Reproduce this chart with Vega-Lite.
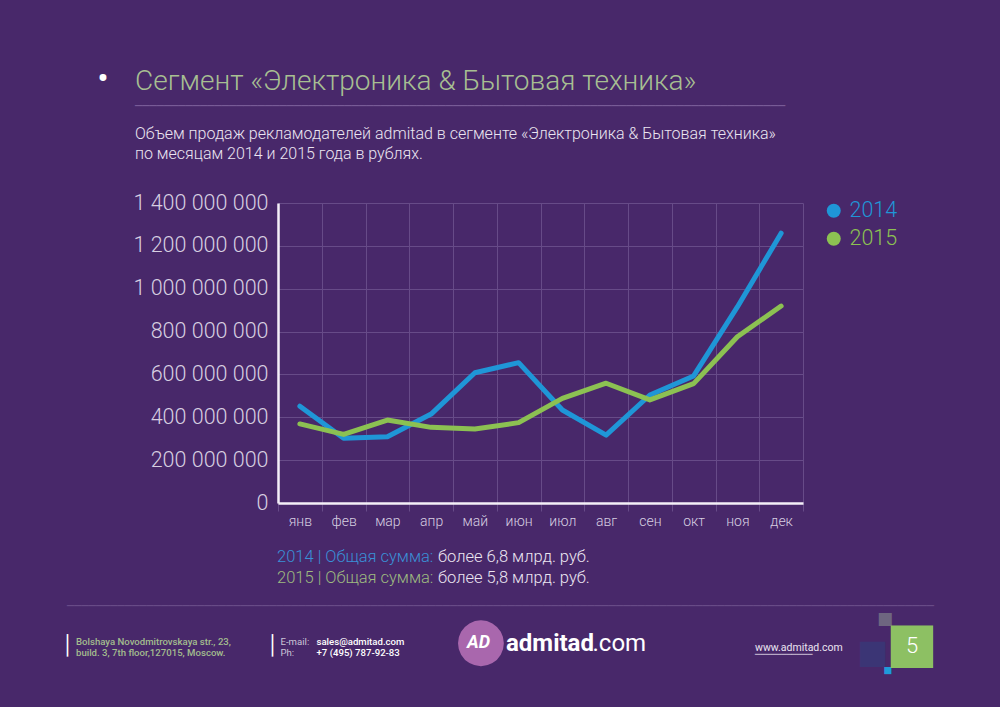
{
  "$schema": "https://vega.github.io/schema/vega-lite/v6.json",
  "width": 525,
  "height": 300,
  "autosize": {"type": "none"},
  "padding": {"left": 278, "top": 203, "right": 197, "bottom": 204},
  "background": "#48286a",
  "config": {
    "font": "Roboto",
    "view": {"stroke": null},
    "locale": {"number": {"decimal": ",", "thousands": " ", "grouping": [3], "currency": ["", ""]}}
  },
  "datasets": {
    "sales": [
      {"month": "янв", "year": "2014", "value": 452000000},
      {"month": "фев", "year": "2014", "value": 302000000},
      {"month": "мар", "year": "2014", "value": 309000000},
      {"month": "апр", "year": "2014", "value": 415000000},
      {"month": "май", "year": "2014", "value": 608000000},
      {"month": "июн", "year": "2014", "value": 655000000},
      {"month": "июл", "year": "2014", "value": 434000000},
      {"month": "авг", "year": "2014", "value": 317000000},
      {"month": "сен", "year": "2014", "value": 504000000},
      {"month": "окт", "year": "2014", "value": 593000000},
      {"month": "ноя", "year": "2014", "value": 915000000},
      {"month": "дек", "year": "2014", "value": 1259000000},
      {"month": "янв", "year": "2015", "value": 369000000},
      {"month": "фев", "year": "2015", "value": 320000000},
      {"month": "мар", "year": "2015", "value": 387000000},
      {"month": "апр", "year": "2015", "value": 353000000},
      {"month": "май", "year": "2015", "value": 345000000},
      {"month": "июн", "year": "2015", "value": 375000000},
      {"month": "июл", "year": "2015", "value": 488000000},
      {"month": "авг", "year": "2015", "value": 559000000},
      {"month": "сен", "year": "2015", "value": 481000000},
      {"month": "окт", "year": "2015", "value": 557000000},
      {"month": "ноя", "year": "2015", "value": 776000000},
      {"month": "дек", "year": "2015", "value": 919000000}
    ],
    "notes": [
      {"year": "2014", "label": "2014 | Общая сумма:", "amount": "более 6,8 млрд. руб."},
      {"year": "2015", "label": "2015 | Общая сумма:", "amount": "более 5,8 млрд. руб."}
    ],
    "one": [{}]
  },
  "layer": [
    {
      "data": {"name": "sales"},
      "mark": {"type": "line", "strokeWidth": 5, "strokeJoin": "round", "strokeCap": "round"},
      "encoding": {
        "x": {
          "field": "month",
          "type": "ordinal",
          "sort": ["янв", "фев", "мар", "апр", "май", "июн", "июл", "авг", "сен", "окт", "ноя", "дек"],
          "bandPosition": 0.5,
          "scale": {"type": "band", "paddingInner": 0, "paddingOuter": 0},
          "axis": {
            "title": null,
            "tickBand": "extent",
            "grid": true,
            "gridColor": "#674b88",
            "gridWidth": 1,
            "ticks": true,
            "tickColor": "#674b88",
            "tickSize": 8,
            "domainColor": "#f4eff8",
            "domainWidth": 2.5,
            "labelColor": "#d7cfe1",
            "labelFontSize": 14,
            "labelFontWeight": 300,
            "labelPadding": 3,
            "labelAngle": 0
          }
        },
        "y": {
          "field": "value",
          "type": "quantitative",
          "scale": {"domain": [0, 1400000000], "nice": false},
          "axis": {
            "title": null,
            "values": [0, 200000000, 400000000, 600000000, 800000000, 1000000000, 1200000000, 1400000000],
            "format": ",d",
            "grid": true,
            "gridColor": "#674b88",
            "gridWidth": 1,
            "ticks": false,
            "domainColor": "#f4eff8",
            "domainWidth": 2.5,
            "labelColor": "#d7cfe1",
            "labelFontSize": 21.5,
            "labelFontWeight": 300,
            "labelPadding": 10
          }
        },
        "color": {
          "field": "year",
          "type": "nominal",
          "scale": {"domain": ["2014", "2015"], "range": ["#1f96d7", "#8cc152"]},
          "legend": {
            "title": null,
            "orient": "right",
            "offset": 23,
            "padding": -3,
            "symbolType": "circle",
            "symbolSize": 196,
            "labelFontSize": 21.5,
            "labelFontWeight": 300,
            "labelOffset": 5,
            "rowPadding": 5,
            "encode": {
              "symbols": {"update": {"fill": {"scale": "color", "field": "value"}, "stroke": {"value": "transparent"}, "strokeWidth": {"value": 0}}},
              "labels": {"update": {"fill": {"scale": "color", "field": "value"}}}
            }
          }
        }
      }
    },
    {
      "data": {"name": "one"},
      "mark": {"type": "text", "text": "Сегмент «Электроника & Бытовая техника»", "align": "left", "baseline": "alphabetic", "fontSize": 28, "fontWeight": 300, "dx": -405.5, "dy": -263, "color": "#a7bf92"},
      "encoding": {}
    },
    {
      "data": {"name": "one"},
      "mark": {"type": "text", "text": ["Объем продаж рекламодателей admitad в сегменте «Электроника & Бытовая техника»", "по месяцам 2014 и 2015 года в рублях."], "align": "left", "baseline": "alphabetic", "lineHeight": 20, "fontSize": 16, "fontWeight": 300, "dx": -405.5, "dy": -214, "color": "#ebe5f1"},
      "encoding": {}
    },
    {
      "data": {"name": "one"},
      "mark": {"type": "text", "text": "•", "align": "center", "baseline": "middle", "fontSize": 34, "dx": -437.5, "dy": -273, "color": "#ffffff"},
      "encoding": {}
    },
    {
      "data": {"name": "one"},
      "mark": {"type": "text", "text": "──────────────────────────────────────────────────────────────────────────────────────────", "font": "DejaVu Sans Mono", "align": "left", "baseline": "middle", "fontSize": 12, "dx": -405.5, "dy": -247, "color": "#7e619c"},
      "encoding": {}
    },
    {
      "data": {"name": "notes"},
      "transform": [{"filter": "datum.year == '2014'"}],
      "mark": {"type": "text", "align": "left", "baseline": "alphabetic", "fontSize": 16.5, "fontWeight": 300, "dx": -263.5, "dy": 209, "color": "#3a90d6"},
      "encoding": {"text": {"field": "label"}}
    },
    {
      "data": {"name": "notes"},
      "transform": [{"filter": "datum.year == '2014'"}],
      "mark": {"type": "text", "align": "left", "baseline": "alphabetic", "fontSize": 16.5, "fontWeight": 300, "dx": -102.5, "dy": 209, "color": "#ebe5f1"},
      "encoding": {"text": {"field": "amount"}}
    },
    {
      "data": {"name": "notes"},
      "transform": [{"filter": "datum.year == '2015'"}],
      "mark": {"type": "text", "align": "left", "baseline": "alphabetic", "fontSize": 16.5, "fontWeight": 300, "dx": -263.5, "dy": 230, "color": "#9ebb80"},
      "encoding": {"text": {"field": "label"}}
    },
    {
      "data": {"name": "notes"},
      "transform": [{"filter": "datum.year == '2015'"}],
      "mark": {"type": "text", "align": "left", "baseline": "alphabetic", "fontSize": 16.5, "fontWeight": 300, "dx": -102.5, "dy": 230, "color": "#ebe5f1"},
      "encoding": {"text": {"field": "amount"}}
    },
    {
      "data": {"name": "one"},
      "mark": {"type": "text", "text": "────────────────────────────────────────────────────────────────────────────────────────────────────────────────────────", "font": "DejaVu Sans Mono", "align": "left", "baseline": "middle", "fontSize": 12, "dx": -473.5, "dy": 253, "color": "#6c4f8a"},
      "encoding": {}
    },
    {
      "data": {"name": "one"},
      "mark": {"type": "text", "text": "│", "font": "DejaVu Sans Mono", "align": "center", "baseline": "middle", "fontSize": 19, "dx": -473, "dy": 293, "color": "#ffffff"},
      "encoding": {}
    },
    {
      "data": {"name": "one"},
      "mark": {"type": "text", "text": "│", "font": "DejaVu Sans Mono", "align": "center", "baseline": "middle", "fontSize": 19, "dx": -268, "dy": 293, "color": "#ffffff"},
      "encoding": {}
    },
    {
      "data": {"name": "one"},
      "mark": {"type": "text", "text": ["Bolshaya Novodmitrovskaya str., 23,", "build. 3, 7th floor,127015, Moscow."], "align": "left", "baseline": "alphabetic", "lineHeight": 11, "fontSize": 9.6, "fontWeight": 500, "dx": -464.5, "dy": 292, "color": "#a3bd8e"},
      "encoding": {}
    },
    {
      "data": {"name": "one"},
      "mark": {"type": "text", "text": ["E-mail:", "Ph:"], "align": "left", "baseline": "alphabetic", "lineHeight": 11, "fontSize": 9.6, "fontWeight": 400, "dx": -260, "dy": 292, "color": "#cbc4d8"},
      "encoding": {}
    },
    {
      "data": {"name": "one"},
      "mark": {"type": "text", "text": ["sales@admitad.com", "+7 (495) 787-92-83"], "align": "left", "baseline": "alphabetic", "lineHeight": 11, "fontSize": 9.6, "fontWeight": 500, "dx": -224, "dy": 292, "color": "#ffffff"},
      "encoding": {}
    },
    {
      "data": {"name": "one"},
      "mark": {"type": "text", "text": "●", "font": "DejaVu Sans", "align": "center", "baseline": "middle", "fontSize": 60, "dx": -59.5, "dy": 288, "color": "#a967ad"},
      "encoding": {}
    },
    {
      "data": {"name": "one"},
      "mark": {"type": "text", "text": "AD", "align": "center", "baseline": "middle", "fontSize": 18, "fontWeight": 700, "fontStyle": "italic", "dx": -62, "dy": 290, "color": "#ffffff"},
      "encoding": {}
    },
    {
      "data": {"name": "one"},
      "mark": {"type": "text", "text": "admitad", "align": "left", "baseline": "alphabetic", "fontSize": 24, "fontWeight": 700, "dx": -34.5, "dy": 298, "color": "#ffffff"},
      "encoding": {}
    },
    {
      "data": {"name": "one"},
      "mark": {"type": "text", "text": ".com", "align": "left", "baseline": "alphabetic", "fontSize": 24, "fontWeight": 400, "dx": 52, "dy": 298, "color": "#ffffff"},
      "encoding": {}
    },
    {
      "data": {"name": "one"},
      "mark": {"type": "text", "text": "www.admitad.com", "align": "left", "baseline": "alphabetic", "fontSize": 10.5, "fontWeight": 400, "dx": 214.5, "dy": 297.5, "color": "#ebe5f1"},
      "encoding": {}
    },
    {
      "data": {"name": "one"},
      "mark": {"type": "text", "text": "───────────", "font": "DejaVu Sans Mono", "align": "left", "baseline": "middle", "fontSize": 8.7, "dx": 214.5, "dy": 301, "color": "#ebe5f1"},
      "encoding": {}
    },
    {
      "data": {"name": "one"},
      "mark": {"type": "text", "text": "■", "font": "DejaVu Sans", "align": "center", "baseline": "middle", "fontSize": 17, "dx": 344.5, "dy": 266, "color": "#6e6680"},
      "encoding": {}
    },
    {
      "data": {"name": "one"},
      "mark": {"type": "text", "text": "■", "font": "DejaVu Sans", "align": "center", "baseline": "middle", "fontSize": 33, "dx": 332, "dy": 300, "color": "#3b3575"},
      "encoding": {}
    },
    {
      "data": {"name": "one"},
      "mark": {"type": "text", "text": "■", "font": "DejaVu Sans", "align": "center", "baseline": "middle", "fontSize": 9.3, "dx": 347.5, "dy": 316.5, "color": "#1e9bd9"},
      "encoding": {}
    },
    {
      "data": {"name": "one"},
      "mark": {"type": "text", "text": "■", "font": "DejaVu Sans", "align": "center", "baseline": "middle", "fontSize": 55.5, "dx": 371.5, "dy": 290.7, "color": "#8dc063"},
      "encoding": {}
    },
    {
      "data": {"name": "one"},
      "mark": {"type": "text", "text": "5", "align": "center", "baseline": "middle", "fontSize": 22, "fontWeight": 300, "dx": 371.5, "dy": 293, "color": "#ffffff"},
      "encoding": {}
    }
  ]
}
